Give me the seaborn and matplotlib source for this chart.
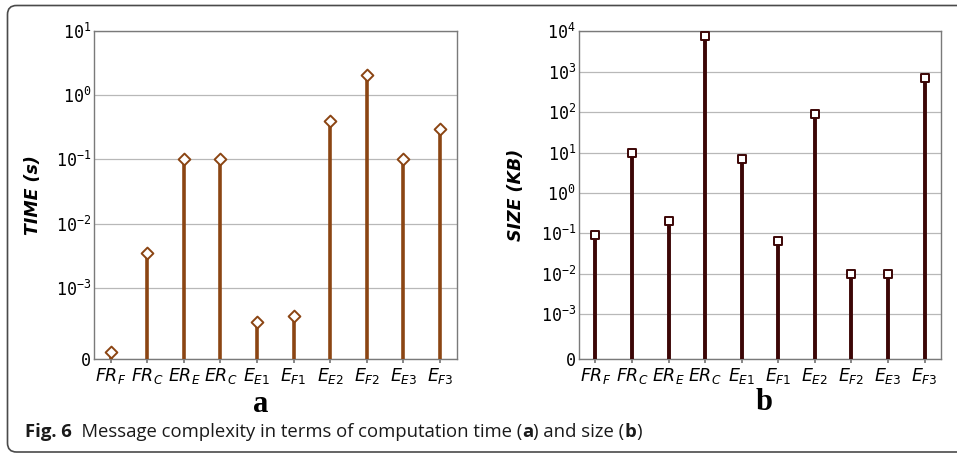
import numpy as np
import pandas as pd
import seaborn as sns
import matplotlib
matplotlib.use("Agg")
import matplotlib.pyplot as plt
from matplotlib.patches import FancyBboxPatch
from matplotlib.ticker import FixedLocator, FixedFormatter

# ---- data ----
categories = ["$FR_F$", "$FR_C$", "$ER_E$", "$ER_C$", "$E_{E1}$",
              "$E_{F1}$", "$E_{E2}$", "$E_{F2}$", "$E_{E3}$", "$E_{F3}$"]
time_s = [1.0e-4, 3.5e-3, 0.1, 0.1, 5.2e-4, 6.0e-4, 0.4, 2.07, 0.1, 0.3]
size_kb = [0.089, 10.0, 0.2, 7500.0, 7.1, 0.064, 90.0, 0.01, 0.01, 700.0]
time_ticks = [0, 1e-3, 1e-2, 1e-1, 1e0, 1e1]
time_tick_labels = ["0", "10^{-3}", "10^{-2}", "10^{-1}", "10^{0}", "10^{1}"]
size_ticks = [0, 1e-3, 1e-2, 1e-1, 1e0, 1e1, 1e2, 1e3, 1e4]
size_tick_labels = ["0", "10^{-3}", "10^{-2}", "10^{-1}", "10^{0}", "10^{1}",
                    "10^{2}", "10^{3}", "10^{4}"]

sns.set_theme(style="whitegrid")
plt.rcParams["font.family"] = ["DejaVu Sans"]
plt.rcParams["mathtext.rm"] = "DejaVu Sans Mono"
plt.rcParams["mathtext.it"] = "DejaVu Sans Mono:italic"
plt.rcParams["mathtext.bf"] = "DejaVu Sans Mono:bold"
plt.rcParams["text.color"] = "black"
plt.rcParams["axes.labelcolor"] = "black"
plt.rcParams["xtick.color"] = "black"
plt.rcParams["ytick.color"] = "black"

W, H = 957, 454
fig = plt.figure(figsize=(W / 100, H / 100), dpi=100)

def px_axes(l, t, r, b):
    return fig.add_axes([l / W, 1 - b / H, (r - l) / W, (b - t) / H])

def panel(ax, values, ticks, tlabels, color, marker, msize, lw, ylabel, ytop):
    df = pd.DataFrame({"x": np.arange(len(categories)), "y": values})
    ax.set_yscale("symlog", linthresh=1e-3, linscale=1)
    ax.vlines(df["x"], 0, df["y"], color=color, linewidth=lw, zorder=3)
    sns.scatterplot(data=df, x="x", y="y", ax=ax, marker=marker, s=msize,
                    facecolor="white", edgecolor=color, linewidth=1.4, zorder=4,
                    legend=False)
    ax.set_xlim(-0.456, len(categories) - 1 + 0.456)
    ax.set_ylim(0, ytop)
    ax.yaxis.set_major_locator(FixedLocator(ticks))
    ax.yaxis.set_minor_locator(FixedLocator([]))
    labs = ["$%s$" % t for t in tlabels]
    ax.yaxis.set_major_formatter(FixedFormatter(labs))
    ax.set_xticks(np.arange(len(categories)))
    ax.set_xticklabels(categories, fontsize=12.5)
    ax.tick_params(axis="y", labelsize=12, pad=2, length=0, labelcolor="black")
    ax.tick_params(axis="x", pad=2, length=3, color="#777777", bottom=True,
                   labelcolor="black")
    fig.canvas.draw()
    for lab in ax.get_yticklabels():
        lab.set_math_fontfamily("custom")
        lab.set_fontfamily("DejaVu Sans Mono")
    for lab in ax.get_xticklabels():
        lab.set_math_fontfamily("dejavusans")
    ax.grid(axis="x", visible=False)
    ax.grid(axis="y", color="#b8b8b8", linewidth=0.9)
    for s in ax.spines.values():
        s.set_color("#7a7a7a")
        s.set_linewidth(1.0)
    ax.set_xlabel("")
    ax.set_ylabel(ylabel, fontsize=12.5, fontweight="bold", fontstyle="italic",
                  labelpad=2, color="black")

ax1 = px_axes(94, 31, 456.7, 359)
panel(ax1, time_s, time_ticks, time_tick_labels, "#8b4513", "D", 36, 2.6,
      "TIME (s)", 10)
ax2 = px_axes(578.7, 31.3, 941.3, 359)
panel(ax2, size_kb, size_ticks, size_tick_labels, "#3c0606", "s", 34, 2.8,
      "SIZE (KB)", 1e4)
ax1.yaxis.set_label_coords((42 - 94) / (456.7 - 94), 0.5)
ax2.yaxis.set_label_coords((525 - 578.7) / (941.3 - 578.7), 0.5)

# panel letters
fig.text(261 / W, 1 - 404 / H, "a", family="Liberation Serif", weight="bold",
         fontsize=22, ha="center", va="center", color="black")
fig.text(763.7 / W, 1 - 402 / H, "b", family="Liberation Serif", weight="bold",
         fontsize=22, ha="center", va="center", color="black")

# frame
ov = fig.add_axes([0, 0, 1, 1], zorder=-1)
ov.set_xlim(0, W)
ov.set_ylim(H, 0)
ov.axis("off")
ov.add_patch(FancyBboxPatch((7.5, 5.5), W + 40, 446.5,
                            boxstyle="round,pad=0,rounding_size=9",
                            facecolor="none", edgecolor="#4a4a4a", linewidth=1.2,
                            clip_on=False))

# caption with mixed weights
pieces = [("Fig. 6", "bold"), ("  Message complexity in terms of computation time (", "normal"),
          ("a", "bold"), (") and size (", "normal"), ("b", "bold"), (")", "normal")]
fig.canvas.draw()
renderer = fig.canvas.get_renderer()
x = 25.0
for txt, wt in pieces:
    t = fig.text(x / W, 1 - 437 / H, txt, family="Open Sans", weight=wt,
                 fontsize=13.3, ha="left", va="baseline", color="#1a1a1a")
    bb = t.get_window_extent(renderer)
    x += bb.width

fig.savefig("out.png", dpi=100)
